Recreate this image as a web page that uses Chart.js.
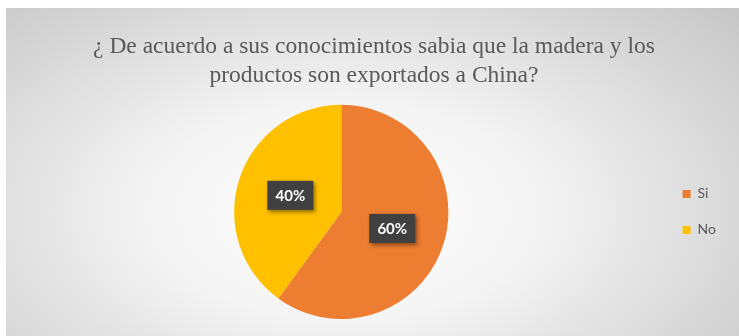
<!DOCTYPE html>
<html>
<head>
<meta charset="utf-8">
<script src="https://cdn.jsdelivr.net/npm/chart.js@4"></script>
<style>
  html, body { margin: 0; padding: 0; background: #fff; }
  #frame {
    position: absolute; left: 6px; top: 8px; width: 733px; height: 328px;
    background: radial-gradient(ellipse 75% 95% at 46% 62%, #ffffff 0%, #f4f4f4 35%, #d6d6d6 75%, #c4c4c4 100%);
  }
  canvas { display: block; }
</style>
</head>
<body>
<div id="frame"><canvas id="pieChart" width="733" height="328"></canvas></div>
<script>
const titleLines = ['¿ De acuerdo a sus conocimientos sabia que la madera y los', 'productos son exportados a China?'];
const categories = ['Si', 'No'];
const percentages = [60, 40];
const sliceColors = ['#ED7D31', '#FFC000'];

// dark boxes with the percentage written in the middle of each slice
const sliceLabels = {
    id: 'sliceLabels',
    afterDatasetsDraw(chart) {
        const ctx = chart.ctx;
        const meta = chart.getDatasetMeta(0);
        ctx.save();
        ctx.font = 'bold 15px Lato, "Liberation Sans", sans-serif';
        ctx.textAlign = 'center';
        ctx.textBaseline = 'middle';
        meta.data.forEach((arc, i) => {
            const p = arc.getCenterPoint();
            const text = chart.data.datasets[0].data[i] + '%';
            const w = 46, h = 29;
            ctx.shadowColor = 'rgba(0,0,0,0.45)';
            ctx.shadowBlur = 4;
            ctx.shadowOffsetX = 2;
            ctx.shadowOffsetY = 2;
            ctx.fillStyle = '#404040';
            ctx.fillRect(p.x - w / 2, p.y - h / 2, w, h);
            ctx.shadowColor = 'transparent';
            ctx.fillStyle = '#ffffff';
            ctx.fillText(text, p.x, p.y + 1);
        });
        ctx.restore();
    }
};

new Chart(document.getElementById('pieChart'), {
    type: 'pie',
    data: {
        labels: categories,
        datasets: [{
            data: percentages,
            backgroundColor: sliceColors,
            borderWidth: 0
        }]
    },
    options: {
        responsive: false,
        animation: false,
        layout: { padding: { left: 16, right: 13, top: 0, bottom: 17 } },
        plugins: {
            title: {
                display: true,
                text: titleLines,
                color: '#595959',
                font: { family: '"Liberation Serif", "Times New Roman", serif', size: 23.5, weight: 'normal', lineHeight: 1.25 },
                padding: { top: 24, bottom: 14 }
            },
            legend: {
                position: 'right',
                fullSize: false,
                labels: {
                    boxWidth: 8,
                    boxHeight: 8,
                    padding: 22,
                    color: '#595959',
                    font: { family: 'Lato, "Liberation Sans", sans-serif', size: 14 }
                }
            },
            tooltip: { enabled: false }
        }
    },
    plugins: [sliceLabels]
});
</script>
</body>
</html>
